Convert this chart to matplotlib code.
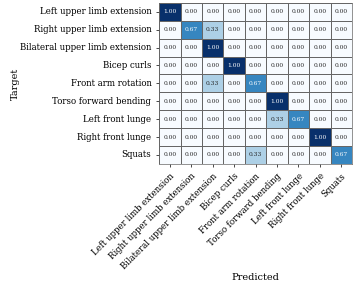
import numpy as np
import matplotlib
matplotlib.use('Agg')
import matplotlib.pyplot as plt
import seaborn as sns

labels = ['Left upper limb extension', 'Right upper limb extension',
          'Bilateral upper limb extension', 'Bicep curls', 'Front arm rotation',
          'Torso forward bending', 'Left front lunge', 'Right front lunge', 'Squats']

# rows = target, cols = predicted
cm = np.array([
    [1.00, 0.00, 0.00, 0.00, 0.00, 0.00, 0.00, 0.00, 0.00],
    [0.00, 0.67, 0.33, 0.00, 0.00, 0.00, 0.00, 0.00, 0.00],
    [0.00, 0.00, 1.00, 0.00, 0.00, 0.00, 0.00, 0.00, 0.00],
    [0.00, 0.00, 0.00, 1.00, 0.00, 0.00, 0.00, 0.00, 0.00],
    [0.00, 0.00, 0.33, 0.00, 0.67, 0.00, 0.00, 0.00, 0.00],
    [0.00, 0.00, 0.00, 0.00, 0.00, 1.00, 0.00, 0.00, 0.00],
    [0.00, 0.00, 0.00, 0.00, 0.00, 0.33, 0.67, 0.00, 0.00],
    [0.00, 0.00, 0.00, 0.00, 0.00, 0.00, 0.00, 1.00, 0.00],
    [0.00, 0.00, 0.00, 0.00, 0.33, 0.00, 0.00, 0.00, 0.67],
])

plt.rcParams['font.family'] = 'DejaVu Serif'

fig = plt.figure(figsize=(3.6, 2.88), dpi=100)
ax = fig.add_axes([0.442, 0.431, 0.536, 0.559])
sns.heatmap(cm, ax=ax, annot=True, fmt='.2f', cmap='Blues', cbar=False,
            linewidths=0.5, linecolor='#666666', vmin=0, vmax=1,
            annot_kws={'fontsize': 4.3},
            xticklabels=labels, yticklabels=labels)
for s in ax.spines.values():
    s.set_visible(True)
    s.set_color('#666666')
    s.set_linewidth(0.5)

ax.tick_params(labelsize=6.2, length=2, width=0.5)
plt.setp(ax.get_xticklabels(), rotation=45, ha='right', rotation_mode='anchor')
plt.setp(ax.get_yticklabels(), rotation=0)
ax.set_xlabel('Predicted', fontsize=7)
ax.set_ylabel('Target', fontsize=7)
ax.xaxis.set_label_coords(0.5, -0.68)
ax.yaxis.set_label_coords(-0.72, 0.5)

fig.savefig('out.png', dpi=100)
